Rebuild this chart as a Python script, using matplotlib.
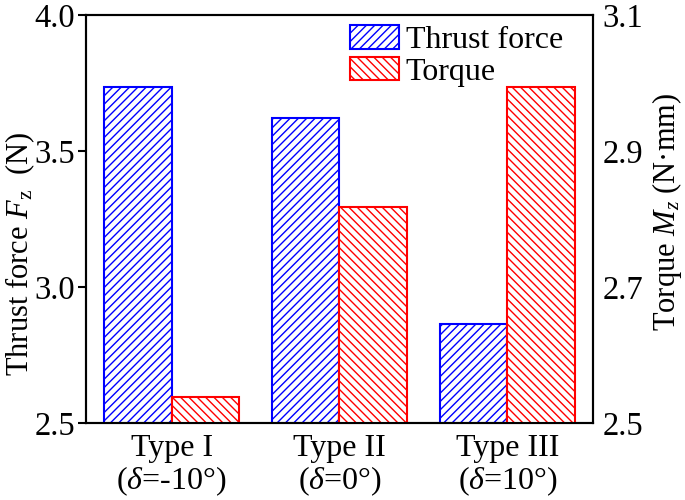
import numpy as np
import matplotlib
matplotlib.use("Agg")
import matplotlib.pyplot as plt

plt.rcParams["font.family"] = "Liberation Serif"
plt.rcParams["mathtext.fontset"] = "custom"
plt.rcParams["mathtext.rm"] = "Liberation Serif"
plt.rcParams["mathtext.it"] = "Liberation Serif:italic"
plt.rcParams["hatch.linewidth"] = 1.0

# Data
categories = ["Type I\n($\\delta$=-10°)", "Type II\n($\\delta$=0°)", "Type III\n($\\delta$=10°)"]
thrust = [3.735, 3.62, 2.865]
torque = [2.538, 2.817, 2.994]

x = np.arange(len(categories))
w = 0.4

fig = plt.figure(figsize=(6.85, 5.0), dpi=100)
ax = fig.add_axes([0.1255, 0.154, 0.7402, 0.816])
ax2 = ax.twinx()

b1 = ax.bar(x - w / 2, thrust, w, color="white", edgecolor="blue",
            hatch="////", linewidth=1.5, label="Thrust force")
b2 = ax2.bar(x + w / 2, torque, w, color="white", edgecolor="red",
             hatch="\\\\\\\\", linewidth=1.5, label="Torque")

ax.set_ylim(2.5, 4.0)
ax.set_yticks([2.5, 3.0, 3.5, 4.0])
ax2.set_ylim(2.5, 3.1)
ax2.set_yticks([2.5, 2.7, 2.9, 3.1])
ax.set_xlim(-0.51, 2.51)
ax.set_xticks(x)
ax.set_xticklabels(categories, linespacing=1.05)

ax.tick_params(axis="y", direction="out", length=6, width=1.5, labelsize=23.5, pad=2)
ax.tick_params(axis="x", direction="in", length=7, width=1.5, labelsize=23, pad=8)
ax2.tick_params(axis="y", length=0, labelsize=23.5, pad=7)

for a in (ax, ax2):
    for s in a.spines.values():
        s.set_linewidth(1.5)

ax.set_ylabel("Thrust force $F_\\mathrm{z}$  (N)", fontsize=22)
ax.yaxis.set_label_coords(-0.097, 0.414)
ax2.set_ylabel("Torque $M_z$ (N·mm)", fontsize=22)
ax2.yaxis.set_label_coords(1.113, 0.517)

ax.legend([b1, b2], ["Thrust force", "Torque"], loc="upper right",
          bbox_to_anchor=(0.975, 1.018), frameon=False, fontsize=23,
          handlelength=1.55, handleheight=0.75, handletextpad=0.2,
          labelspacing=0.05, borderaxespad=0.15)

plt.savefig("out.png", dpi=100)
